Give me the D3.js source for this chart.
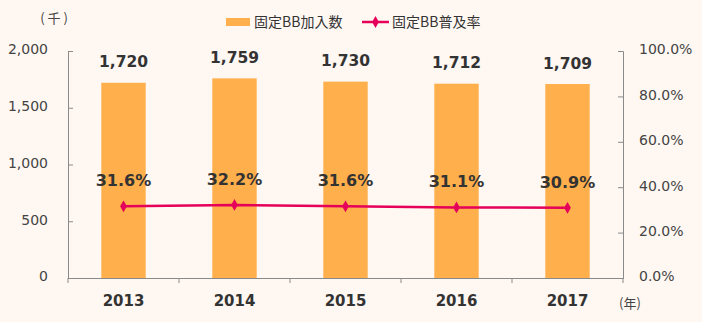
<!DOCTYPE html>
<html>
<head>
<meta charset="utf-8">
<script src="https://cdn.jsdelivr.net/npm/d3@7/dist/d3.min.js"></script>
<style>
  html, body { margin: 0; padding: 0; background: #FEF7F2; }
  svg { display: block; }
</style>
</head>
<body>
<script>
// Fixed broadband subscribers (thousands) and penetration rate (%)
const years = ["2013", "2014", "2015", "2016", "2017"];
const subscribers = [1720, 1759, 1730, 1712, 1709];
const penetration = [31.6, 32.2, 31.6, 31.1, 30.9];
const leftTicks = [0, 500, 1000, 1500, 2000];
const rightTicks = [0, 20, 40, 60, 80, 100];

const W = 702, H = 322;
const m = { left: 68, right: 79, top: 51, bottom: 44 };
const plotR = W - m.right, plotB = H - m.bottom;

const svg = d3.select("body").append("svg").attr("width", W).attr("height", H);
svg.append("rect").attr("width", W).attr("height", H).attr("fill", "#FEF7F2");

const x = d3.scaleBand().domain(years).range([m.left, plotR]).paddingInner(0.6).paddingOuter(0.3);
const xEdges = d3.scaleBand().domain(years).range([m.left, plotR]);
const yL = d3.scaleLinear().domain([0, 2000]).range([plotB, m.top]);
const yR = d3.scaleLinear().domain([0, 100]).range([plotB, m.top]);

const axisColor = "#8a8a8a";
const textColor = "#333";
const sans = "'DejaVu Sans', Verdana, sans-serif";
const cjk = "'Noto Sans CJK JP', sans-serif";

// bars
svg.selectAll("rect.bar").data(years).enter().append("rect")
  .attr("class", "bar")
  .attr("x", d => x(d))
  .attr("width", x.bandwidth())
  .attr("y", (d, i) => yL(subscribers[i]))
  .attr("height", (d, i) => plotB - yL(subscribers[i]))
  .attr("fill", "#FFAF4B");

// left axis
const gL = svg.append("g").attr("transform", `translate(${m.left},0)`)
  .call(d3.axisLeft(yL).tickValues(leftTicks).tickFormat(d3.format(",")).tickSize(-5).tickPadding(20));
// right axis
const gR = svg.append("g").attr("transform", `translate(${plotR},0)`)
  .call(d3.axisRight(yR).tickValues(rightTicks).tickFormat(d => d.toFixed(1) + "%").tickSize(-5).tickPadding(16));
// bottom axis with ticks at category edges
const gB = svg.append("g").attr("transform", `translate(0,${plotB})`)
  .call(d3.axisBottom(xEdges).tickSize(0).tickFormat(""));
gB.selectAll(".edge").data(years.slice(1)).enter().append("line")
  .attr("class", "edge")
  .attr("x1", d => xEdges(d)).attr("x2", d => xEdges(d))
  .attr("y1", 0).attr("y2", 5);
gB.append("line").attr("x1", m.left).attr("x2", m.left).attr("y1", 0).attr("y2", 5);
gB.append("line").attr("x1", plotR).attr("x2", plotR).attr("y1", 0).attr("y2", 5);

[gL, gR, gB].forEach(g => {
  g.selectAll("path.domain").attr("stroke", axisColor).attr("stroke-width", 1);
  g.selectAll("line").attr("stroke", axisColor);
  g.selectAll("text").attr("fill", "#444").style("font-family", sans).style("font-size", "14px");
});
gR.selectAll("text").attr("text-anchor", "start").attr("dy", "0.2em");
gL.selectAll("text").attr("dy", "0.2em");

// year labels
svg.selectAll("text.year").data(years).enter().append("text")
  .attr("class", "year")
  .attr("x", d => x(d) + x.bandwidth() / 2)
  .attr("y", plotB + 28)
  .attr("text-anchor", "middle")
  .attr("fill", textColor)
  .style("font-family", sans).style("font-weight", "bold").style("font-size", "15px")
  .text(d => d);

// bar value labels
svg.selectAll("text.val").data(years).enter().append("text")
  .attr("class", "val")
  .attr("x", d => x(d) + x.bandwidth() / 2)
  .attr("y", (d, i) => yL(subscribers[i]) - 15.5)
  .attr("text-anchor", "middle")
  .attr("fill", textColor)
  .style("font-family", sans).style("font-weight", "bold").style("font-size", "15.5px")
  .text((d, i) => d3.format(",")(subscribers[i]));

// penetration line
const lineColor = "#E5005A";
const cx = d => x(d) + x.bandwidth() / 2;
svg.append("path")
  .datum(years)
  .attr("fill", "none")
  .attr("stroke", lineColor)
  .attr("stroke-width", 2.5)
  .attr("d", d3.line().x(cx).y((d, i) => yR(penetration[i])));

const diamond = d3.symbol().type(d3.symbolDiamond).size(40);
svg.selectAll("path.mk").data(years).enter().append("path")
  .attr("class", "mk")
  .attr("transform", (d, i) => `translate(${cx(d)},${yR(penetration[i])})`)
  .attr("d", diamond)
  .attr("fill", lineColor);

svg.selectAll("text.pct").data(years).enter().append("text")
  .attr("class", "pct")
  .attr("x", cx)
  .attr("y", (d, i) => yR(penetration[i]) - 20)
  .attr("text-anchor", "middle")
  .attr("fill", textColor)
  .style("font-family", sans).style("font-weight", "bold").style("font-size", "16px")
  .text((d, i) => penetration[i].toFixed(1) + "%");

// unit labels
svg.append("text").attr("x", 54).attr("y", 23).attr("text-anchor", "middle")
  .attr("fill", "#444").style("font-family", cjk).style("font-size", "13px").text("( 千 )");
svg.append("text").attr("x", 630).attr("y", 308).attr("text-anchor", "middle")
  .attr("fill", "#444").style("font-family", cjk).style("font-size", "13px").text("(年)");

// legend
const lg = svg.append("g");
lg.append("rect").attr("x", 226).attr("y", 18).attr("width", 24).attr("height", 8).attr("fill", "#FFAF4B");
lg.append("text").attr("x", 254).attr("y", 27).attr("fill", textColor)
  .style("font-family", cjk).style("font-size", "14px").text("固定BB加入数");
lg.append("line").attr("x1", 362).attr("x2", 389).attr("y1", 22).attr("y2", 22)
  .attr("stroke", lineColor).attr("stroke-width", 2.5);
lg.append("path").attr("transform", "translate(375.5,22)").attr("d", diamond).attr("fill", lineColor);
lg.append("text").attr("x", 392).attr("y", 27).attr("fill", textColor)
  .style("font-family", cjk).style("font-size", "14px").text("固定BB普及率");
</script>
</body>
</html>
